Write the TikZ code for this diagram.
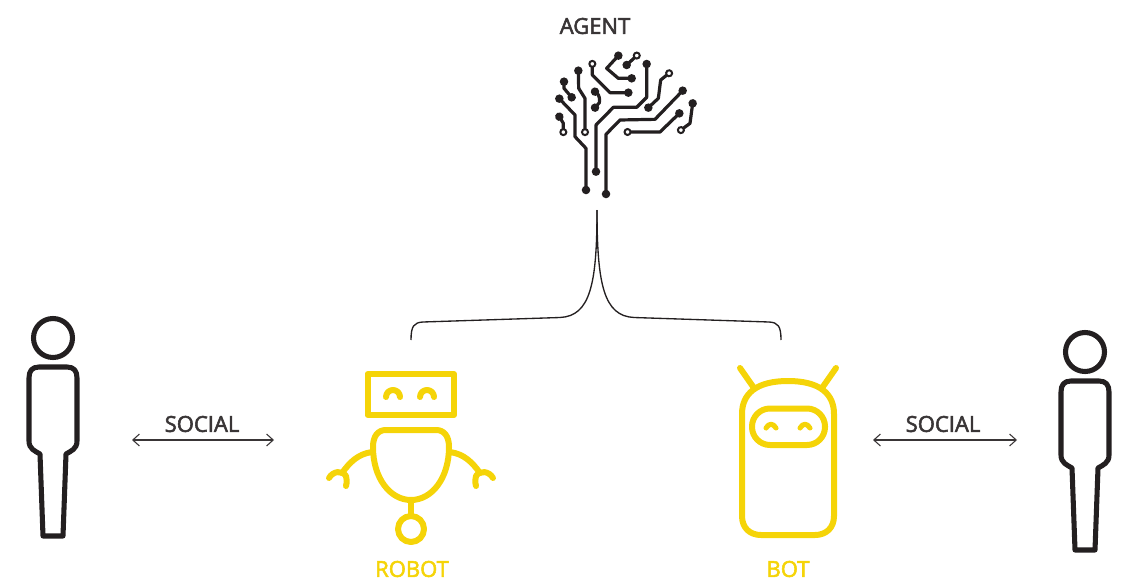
\documentclass[tikz,border=0pt]{standalone}
\usepackage{fontspec}
\setmainfont{Open Sans}
\newfontfamily\labelfont[FakeBold=2.5]{Open Sans}
\usetikzlibrary{arrows.meta}
\definecolor{botyellow}{HTML}{F5D408}
\definecolor{inkdark}{HTML}{231F20}
\tikzset{
  label text/.style={font=\fontsize{16.5}{18}\labelfont,text=inkdark!90,inner sep=0pt},
  yellow text/.style={font=\fontsize{16.5}{18}\labelfont,text=botyellow,inner sep=0pt},
  yellow line/.style={draw=botyellow,line width=4.5pt,line join=round,line cap=round},
  person line/.style={draw=inkdark,line width=3.8pt,line join=round},
  social arrow/.style={draw=inkdark!90,line width=0.8pt,{Straight Barb[length=5pt,width=9pt]}-{Straight Barb[length=5pt,width=9pt]}},
  fork line/.style={draw=inkdark,line width=1pt},
  trace/.style={draw=inkdark,line width=2.4pt,line join=round,shorten <=-3.1pt,shorten >=-3.1pt},
  dd/.style={trace,{Circle[length=6.2pt,width=6.2pt]}-{Circle[length=6.2pt,width=6.2pt]}},
  od/.style={trace,{Circle[open,fill=white,length=6pt,width=6pt,line width=1.5pt]}-{Circle[length=6.2pt,width=6.2pt]}}
}
\begin{document}
\begin{tikzpicture}[x=0.75pt,y=-0.75pt]
    \useasboundingbox (0,0) rectangle (1123,581);

    % Labels
    \node[label text] (agentlabel) at (595,26) {AGENT};
    \node[label text] (socialleft) at (202,424) {SOCIAL};
    \node[label text] (socialright) at (943,424) {SOCIAL};
    \node[yellow text] (robotlabel) at (412,569) {ROBOT};
    \node[yellow text] (botlabel) at (788,569) {BOT};

    % Brain
    \begin{scope}[shift={(530,0)},x=0.25pt,y=-0.25pt]
      \draw[dd] (168,570) -- (168,445) -- (135,410) -- (135,345) -- (88,296);
      \draw[dd] (198,515) -- (198,375) -- (250,322) -- (320,322) -- (350,292) -- (350,192);
      \draw[dd] (228,582) -- (228,403) -- (270,360) -- (375,358) -- (458,272);
      \draw[od] (293,396) -- (390,396) -- (448,340);
      \draw[od] (453,390) -- (480,370) -- (488,310);
      \draw[od] (165,396) -- (165,295) -- (146,265) -- (145,212);
      \draw[od] (100,396) -- (100,370) -- (88,350);
      \draw[dd] (102,245) -- (102,265) -- (125,292);
      \draw[dd] (195,275) .. controls (208,285) and (210,300) .. (208,308) -- (195,323);
      \draw[od] (187,192) -- (187,225) -- (240,278) -- (295,278);
      \draw[dd] (265,167) -- (230,205) -- (265,235) -- (305,235);
      \draw[od] (320,167) -- (290,195);
      \draw[od] (417,220) -- (392,240) -- (385,295) -- (355,323);
    \end{scope}

    % Fork from agent to robot and bot
    \coordinate (agentstem) at (597,210);
    \coordinate (robotend) at (411,340);
    \coordinate (botend) at (781,340);
    \draw[fork line] (agentstem) .. controls (597,285) and (590,316) .. (560,317.5)
      -- (423,322) .. controls (414,322.5) and (411,326) .. (robotend);
    \draw[fork line] (agentstem) .. controls (597,285) and (604,316) .. (634,317.5)
      -- (769,322) .. controls (778,322.5) and (781,326) .. (botend);

    % Left person
    \begin{scope}
      \draw[person line] (53,338) circle (19.5);
      \draw[person line] (39,367) -- (67,367) .. controls (74,367) and (77,371) .. (77,378) -- (77,441) .. controls (77,449) and (71,451) .. (66,454) -- (63,536) -- (43,536) -- (40,454) .. controls (35,451) and (29,449) .. (29,441) -- (29,378) .. controls (29,371) and (32,367) .. (39,367) -- cycle;
    \end{scope}

    % Right person
    \begin{scope}[shift={(1032,14)}]
      \draw[person line] (53,338) circle (19.5);
      \draw[person line] (39,367) -- (67,367) .. controls (74,367) and (77,371) .. (77,378) -- (77,441) .. controls (77,449) and (71,451) .. (66,454) -- (63,536) -- (43,536) -- (40,454) .. controls (35,451) and (29,449) .. (29,441) -- (29,378) .. controls (29,371) and (32,367) .. (39,367) -- cycle;
    \end{scope}

    % Social arrows
    \coordinate (arrowla) at (132,440);
    \coordinate (arrowlb) at (274,440);
    \coordinate (arrowra) at (873,440);
    \coordinate (arrowrb) at (1017,440);
    \draw[social arrow] (arrowla) -- (arrowlb);
    \draw[social arrow] (arrowra) -- (arrowrb);

    % Robot
    \begin{scope}
      \draw[yellow line] (367.5,374) rectangle (454,415);
      \draw[yellow line] (386,397) arc (180:360:7);
      \draw[yellow line] (420,397) arc (180:360:7);
      \draw[yellow line] (373,447) .. controls (373,436) and (378,430) .. (386,430) -- (436,430)
        .. controls (444,430) and (449,436) .. (449,447) .. controls (449,478) and (432,500) .. (411,500)
        .. controls (390,500) and (373,478) .. (373,447) -- cycle;
      \draw[yellow line] (411,500) -- (411,516);
      \draw[yellow line] (411,529) circle (13);
      % arms
      \draw[yellow line] (372,452) .. controls (358,454) and (350,462) .. (342,473);
      \draw[yellow line] (329,478) .. controls (333,471) and (342,470) .. (346,476) .. controls (347,479) and (347,482) .. (346,486);
      \draw[yellow line] (450,452) .. controls (464,454) and (472,462) .. (480,473);
      \draw[yellow line] (493,478) .. controls (489,471) and (480,470) .. (476,476) .. controls (475,479) and (475,482) .. (476,486);
    \end{scope}

    % Bot
    \begin{scope}
      \draw[yellow line] (754,388) -- (740,368);
      \draw[yellow line] (822,388) -- (836,368);
      \draw[yellow line] (742,414) .. controls (742,394) and (756,381) .. (788,381)
        .. controls (820,381) and (834,394) .. (834,414) -- (834,516)
        .. controls (834,528) and (826,535) .. (815,535) -- (761,535)
        .. controls (750,535) and (742,528) .. (742,516) -- cycle;
      \draw[yellow line,rounded corners=13.5pt] (752,408.5) rectangle (825,445);
      \draw[yellow line,line width=3.8pt] (766,428) .. controls (769,423) and (773,423) .. (776,428);
      \draw[yellow line,line width=3.8pt] (800,428) .. controls (803,423) and (807,423) .. (810,428);
    \end{scope}
\end{tikzpicture}
\end{document}
